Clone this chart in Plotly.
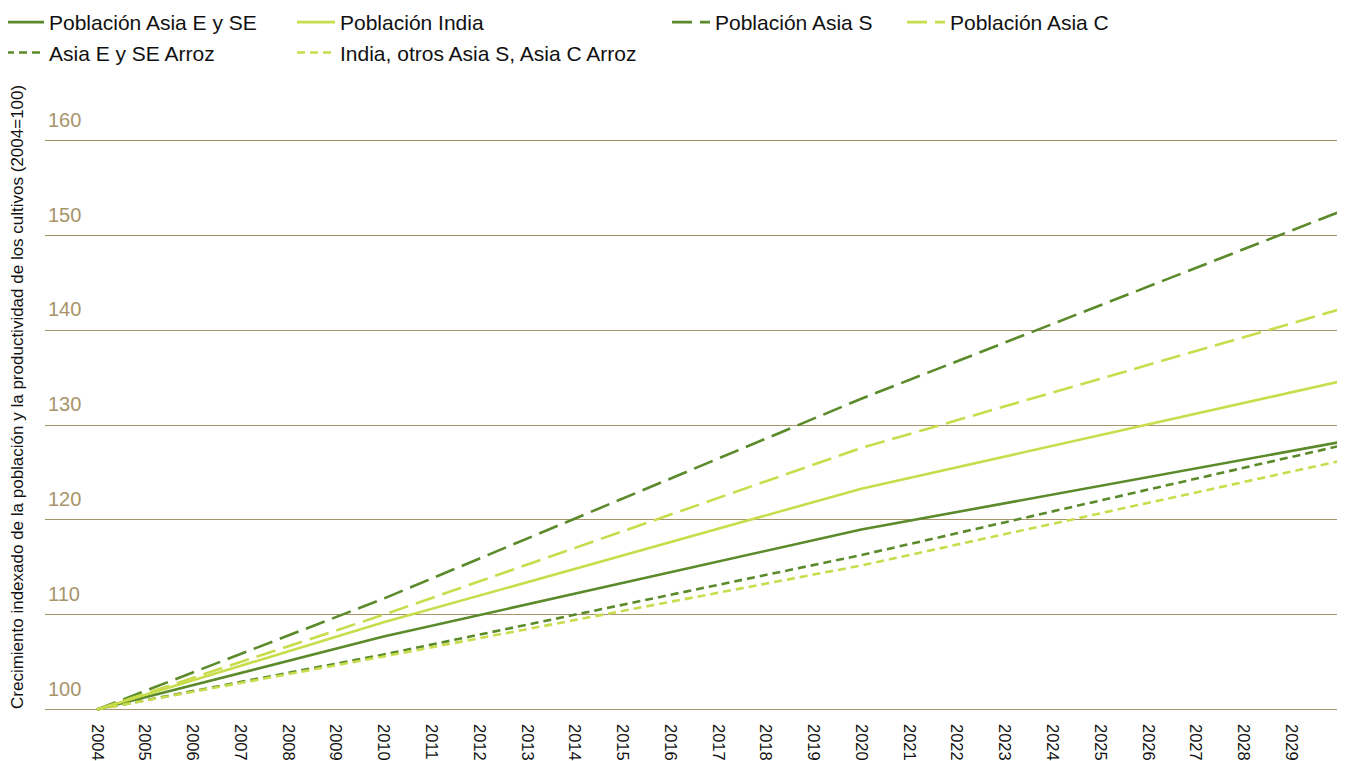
import plotly.graph_objects as go

years = [2004, 2010, 2020, 2030]
pob_asia_ese = [100, 107.7, 119.0, 128.2]
pob_india = [100, 109.2, 123.3, 134.6]
pob_asia_s = [100, 111.7, 132.8, 152.5]
pob_asia_c = [100, 110.0, 127.6, 142.2]
arroz_ese = [100, 105.8, 116.3, 127.8]
arroz_india = [100, 105.6, 115.2, 126.2]

tick_years = list(range(2004, 2030))
y_ticks = [100, 110, 120, 130, 140, 150, 160]

DARK = "#5a8a2a"
LIGHT = "#c8dc4c"
GRID = "#a8946a"
TICK_TAN = "#a8946a"
FONT = "Liberation Sans, Arial, sans-serif"

fig = go.Figure()

def add(name, y, color, dash, legend):
    fig.add_trace(go.Scatter(
        x=years, y=y, name=name, mode="lines",
        line=dict(color=color, width=2.6, dash=dash),
        legend=legend, hoverinfo="skip"))

add("Población Asia E y SE", pob_asia_ese, DARK, "solid", "legend")
add("Asia E y SE Arroz", arroz_ese, DARK, "8px,5px", "legend")
add("Población India", pob_india, LIGHT, "solid", "legend2")
add("India, otros Asia S, Asia C Arroz", arroz_india, LIGHT, "8px,5px", "legend2")
add("Población Asia S", pob_asia_s, DARK, "20px,8px", "legend3")
add("Población Asia C", pob_asia_c, LIGHT, "20px,8px", "legend4")

W, H = 1337, 753
ML, MR, MT, MB = 37, 6, 95, 42
PW = W - ML - MR
PH = H - MT - MB

leg_common = dict(orientation="v", xref="paper", yref="paper",
                  yanchor="top", xanchor="left", y=1 + (MT + 6) / PH,
                  font=dict(family=FONT, size=21, color="#111111"),
                  bgcolor="rgba(0,0,0,0)", borderwidth=0, itemwidth=38,
                  tracegroupgap=0)

def lx(fig_px):
    return (fig_px - ML) / PW

fig.update_layout(
    width=W, height=H,
    margin=dict(l=ML, r=MR, t=MT, b=MB, autoexpand=False),
    paper_bgcolor="white", plot_bgcolor="white",
    font=dict(family=FONT),
    showlegend=True,
    legend=dict(x=lx(-7), **leg_common),
    legend2=dict(x=lx(284), **leg_common),
    legend3=dict(x=lx(659), **leg_common),
    legend4=dict(x=lx(894), **leg_common),
    xaxis=dict(
        range=[2002.911, 2030], tickmode="array", tickvals=tick_years,
        ticktext=[str(y) for y in tick_years], tickangle=90,
        showgrid=False, showline=False, zeroline=False, ticks="",
        ticklabelstandoff=4,
        tickfont=dict(family=FONT, size=16.5, color="#111111"),
    ),
    yaxis=dict(
        range=[99, 164], tickmode="array", tickvals=y_ticks,
        ticktext=[str(v) for v in y_ticks],
        showgrid=True, gridcolor=GRID, gridwidth=1.3, zeroline=False, showline=False,
        ticks="", ticklabelposition="inside top", ticklabelshift=-7,
        tickfont=dict(family=FONT, size=20, color=TICK_TAN),
    ),
    annotations=[dict(
        text="Crecimiento indexado de la población y la productividad de los cultivos (2004=100)",
        xref="paper", yref="paper", x=lx(9), y=(MT + PH - 389) / PH, textangle=-90,
        showarrow=False, xanchor="center", yanchor="middle",
        font=dict(family="Liberation Sans Narrow, Arial Narrow, " + FONT, size=17, color="#111111"),
    )],
)

fig.write_html("out.html")
